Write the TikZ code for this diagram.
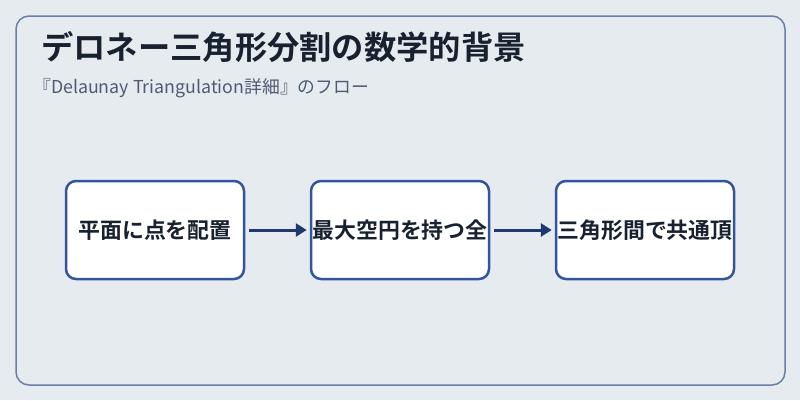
\documentclass[tikz,border=0pt]{standalone}
\usepackage{fontspec}
\setmainfont{Noto Sans CJK JP}
\newfontfamily\jpbold{Noto Sans CJK JP Bold}
\usetikzlibrary{arrows.meta}
\definecolor{bgc}{HTML}{E6EBF0}
\definecolor{framec}{HTML}{6A7FA8}
\definecolor{titlec}{HTML}{18212F}
\definecolor{subc}{HTML}{4D5B73}
\definecolor{boxc}{HTML}{3355A0}
\definecolor{arrc}{HTML}{1F3A70}
\tikzset{
  stepbox/.style={draw=boxc, line width=2.5pt, fill=white, rounded corners=10pt,
    minimum width=178pt, minimum height=98pt, inner sep=0pt,
    font=\jpbold\fontsize{21.9pt}{24pt}\selectfont, text=titlec},
  flowarrow/.style={draw=arrc, line width=3pt, -{Triangle[length=11pt,width=13pt]}}
}
\begin{document}
\begin{tikzpicture}[x=1pt,y=-1pt]
\useasboundingbox (0,0) rectangle (800,400);
\fill[bgc] (0,0) rectangle (800,400);
\draw[framec, line width=1.5pt, rounded corners=13pt, fill=bgc] (16,16) rectangle (785,385);
\node[anchor=west, text=titlec, font=\jpbold\fontsize{32.3pt}{34pt}\selectfont, inner sep=0pt] (title) at (41,47) {デロネー三角形分割の数学的背景};
\node[anchor=west, text=subc, font=\fontsize{17.8pt}{20pt}\selectfont, inner sep=0pt] (sub) at (33,88) {『Delaunay Triangulation詳細』のフロー};
\node[stepbox] (b1) at (155,230) {平面に点を配置};
\node[stepbox] (b2) at (400,230) {最大空円を持つ全};
\node[stepbox] (b3) at (645,230) {三角形間で共通頂};
\draw[flowarrow] ([xshift=4pt]b1.east) -- ([xshift=-3pt]b2.west);
\draw[flowarrow] ([xshift=4pt]b2.east) -- ([xshift=-3pt]b3.west);
\end{tikzpicture}
\end{document}
